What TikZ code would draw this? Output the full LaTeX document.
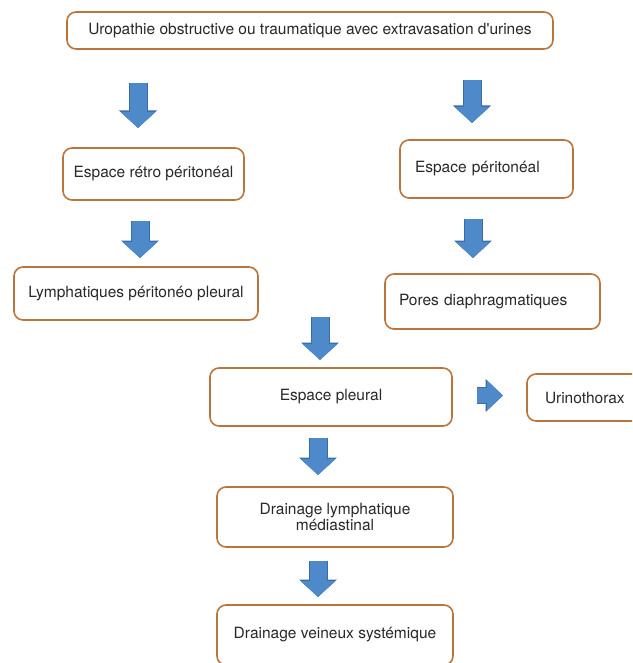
\documentclass[tikz,border=0pt]{standalone}
\usepackage{fontspec}
\setmainfont{TeX Gyre Heros}
\usetikzlibrary{arrows.meta}
\definecolor{boxbrown}{RGB}{184,118,60}
\definecolor{arrowblue}{RGB}{78,137,202}
\definecolor{arrowdark}{RGB}{58,108,168}
\definecolor{textgray}{RGB}{40,40,40}
\begin{document}
\begin{tikzpicture}[x=1pt,y=-1pt,
    box/.style={draw=boxbrown, line width=1.6pt, rounded corners=9pt, fill=white,
      text=textgray, font=\fontsize{15.5}{16.5}\selectfont, align=center, inner sep=0pt},
    flow/.style={line width=17pt, arrowblue, -{Triangle[length=16pt,width=34pt]},
      preaction={draw=arrowdark, line width=19pt, -{Triangle[length=17.5pt,width=37pt]}}},
    sideflow/.style={line width=15pt, arrowblue, -{Triangle[length=16pt,width=29pt]},
      preaction={draw=arrowdark, line width=17pt, -{Triangle[length=17.5pt,width=32pt]}}}]
    \useasboundingbox (0,0) rectangle (632,663);
    \clip (0,0) rectangle (632,663);

    % boxes
    \node[box, minimum width=486pt, minimum height=37pt] (uro) at (310,30.5)
        {Uropathie obstructive ou traumatique avec extravasation d\textquotesingle urines};
    \node[box, minimum width=181pt, minimum height=52pt] (retro) at (153.5,174)
        {Espace rétro péritonéal};
    \node[box, text width=143pt, inner xsep=15pt, align=left, minimum height=58pt] (perit) at (486.5,169)
        {Espace péritonéal};
    \node[box, minimum width=244pt, minimum height=53pt] (lymph) at (136,293.5)
        {Lymphatiques péritonéo pleural};
    \node[box, text width=187pt, inner xsep=14pt, align=left, minimum height=55pt] (pores) at (492.5,301.5)
        {Pores diaphragmatiques};
    \node[box, minimum width=242pt, minimum height=58pt] (pleural) at (331,397)
        {Espace pleural};
    \node[box, text width=82pt, inner xsep=18pt, align=left, minimum height=47pt] (urino) at (586,397.5)
        {Urinothorax};
    \node[box, minimum width=236pt, minimum height=60pt] (drainlymph) at (335,517)
        {Drainage lymphatique\\médiastinal};
    \node[box, minimum width=236pt, minimum height=60pt] (drainvein) at (335,635)
        {Drainage veineux systémique};

    % arrow ends
    \coordinate (a1s) at (138,83);   \coordinate (a1e) at (138,128);
    \coordinate (a2s) at (472,80);   \coordinate (a2e) at (472,123);
    \coordinate (a3s) at (140,221);  \coordinate (a3e) at (140,258);
    \coordinate (a4s) at (473,219);  \coordinate (a4e) at (473,258);
    \coordinate (a5s) at (320,317);  \coordinate (a5e) at (320,360);
    \coordinate (a6s) at (318,438);  \coordinate (a6e) at (318,475);
    \coordinate (a7s) at (318,561);  \coordinate (a7e) at (318,597);
    \coordinate (a8s) at (477,395.5); \coordinate (a8e) at (503,395.5);

    \draw[flow] (a1s) -- (a1e);
    \draw[flow] (a2s) -- (a2e);
    \draw[flow] (a3s) -- (a3e);
    \draw[flow] (a4s) -- (a4e);
    \draw[flow] (a5s) -- (a5e);
    \draw[flow] (a6s) -- (a6e);
    \draw[flow] (a7s) -- (a7e);
    \draw[sideflow] (a8s) -- (a8e);
\end{tikzpicture}
\end{document}
